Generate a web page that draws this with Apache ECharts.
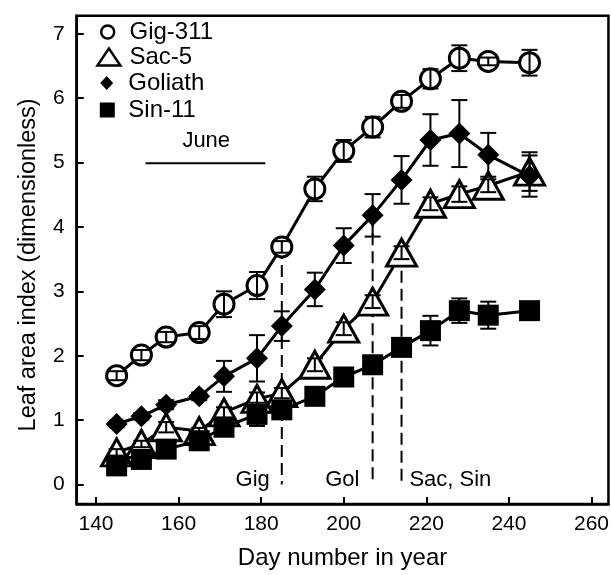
<!DOCTYPE html>
<html><head><meta charset="utf-8">
<script src="https://cdn.jsdelivr.net/npm/echarts@6/dist/echarts.min.js"></script>
<style>html,body{margin:0;padding:0;background:#fff}#c{width:612px;height:575px}</style>
</head><body><div id="c"></div>
<script>
// ---- data ----
const days = [145,151,157,165,171,179,185,193,200,207,214,221,228,235,245];
const gigLAI = [1.69,2.01,2.29,2.36,2.80,3.09,3.69,4.59,5.18,5.55,5.95,6.30,6.62,6.57,6.55];
const gigErr = [0.07,0.08,0.08,0.10,0.20,0.21,0.09,0.19,0.17,0.16,0.10,0.15,0.20,0.06,0.20];
const sacLAI = [0.50,0.63,0.89,0.83,1.12,1.33,1.42,1.86,2.42,2.84,3.60,4.36,4.51,4.64,4.86];
const sacErr = [0.05,0.05,0.08,0.05,0.08,0.10,0.08,0.10,0.10,0.10,0.10,0.10,0.12,0.10,0.30];
const golLAI = [0.94,1.06,1.24,1.37,1.68,1.96,2.46,3.03,3.71,4.18,4.73,5.35,5.45,5.12,4.79];
const golErr = [0.05,0.05,0.07,0.06,0.24,0.36,0.23,0.26,0.27,0.33,0.37,0.40,0.52,0.34,0.32];
const sinLAI = [0.29,0.39,0.55,0.68,0.89,1.09,1.16,1.37,1.67,1.86,2.13,2.39,2.70,2.63,2.70];
const sinErr = [0.05,0.05,0.05,0.05,0.08,0.18,0.10,0.08,0.08,0.08,0.10,0.23,0.19,0.21,0.13];
const seriesNames = ['Gig-311','Sac-5','Goliath','Sin-11'];
const xTicks = [140,160,180,200,220,240,260];
const yTicks = [0,1,2,3,4,5,6,7];
const guideDays = [185,207,214];
const guideTops = [3.69,4.18,3.60];
const guideBottom = 0;
const juneSpan = [152,181];
const juneLevel = 4.99;
const annoText = ['Gig','Gol','Sac, Sin','June'];
const annoX = [182.1,203.8,215.9,166.7];
const annoY = [0.07,0.07,0.07,5.33];
const annoAlign = ['right','right','left','center'];

// ---- chart ----
const FONT = '"Liberation Sans", Arial, sans-serif';
const chart = echarts.init(document.getElementById('c'), null, {renderer:'canvas'});

function pairs(xs, ys){ return xs.map((x,i)=>[x, ys[i]]); }
function errData(vals, errs){ return days.map((d,i)=>[d, vals[i]-errs[i], vals[i]+errs[i]]); }

function errRender(params, api){
  const x = api.value(0);
  const top = api.coord([x, api.value(2)]);
  const bot = api.coord([x, api.value(1)]);
  const w = 8;
  const st = {stroke:'#000', lineWidth:2};
  return {type:'group', children:[
    {type:'line', shape:{x1:top[0], y1:top[1], x2:bot[0], y2:bot[1]}, style:st},
    {type:'line', shape:{x1:top[0]-w, y1:top[1], x2:top[0]+w, y2:top[1]}, style:st},
    {type:'line', shape:{x1:bot[0]-w, y1:bot[1], x2:bot[0]+w, y2:bot[1]}, style:st}
  ]};
}

const seriesDefs = [
  {name:seriesNames[0], vals:gigLAI, errs:gigErr, symbol:'circle', size:20, fill:'#fff', bw:3, z:2},
  {name:seriesNames[1], vals:sacLAI, errs:sacErr, symbol:'triangle', size:[30,27], fill:'#fff', bw:3, z:3},
  {name:seriesNames[2], vals:golLAI, errs:golErr, symbol:'diamond', size:22, fill:'#000', bw:0, z:4},
  {name:seriesNames[3], vals:sinLAI, errs:sinErr, symbol:'rect', size:21, fill:'#000', bw:0, z:5}
];

const series = [];
// dashed guide lines
guideDays.forEach((d,i)=>{
  series.push({type:'line', data:[[d, guideTops[i]],[d, guideBottom]], symbol:'none', silent:true, z:1,
    lineStyle:{color:'#000', width:2, type:[12,6]}});
});
// June bar
series.push({type:'line', data:[[juneSpan[0], juneLevel],[juneSpan[1], juneLevel]], symbol:'none', silent:true, z:1,
  lineStyle:{color:'#000', width:2}});

seriesDefs.forEach(s=>{
  series.push({type:'line', name:s.name, data:pairs(days, s.vals), symbol:s.symbol, symbolSize:s.size,
    showAllSymbol:true, z:s.z,
    lineStyle:{color:'#000', width:3},
    itemStyle:{color:s.fill, borderColor:'#000', borderWidth:s.bw}});
});
seriesDefs.forEach(s=>{
  series.push({type:'custom', name:s.name+' err', data:errData(s.vals, s.errs), renderItem:errRender,
    encode:{x:0, y:[1,2]}, z:6, silent:true, clip:false});
});
// annotations
series.push({type:'custom', data:pairs(annoX, annoY), z:7, silent:true, clip:false,
  encode:{x:0, y:1},
  renderItem:function(params, api){
    const p = api.coord([api.value(0), api.value(1)]);
    const i = params.dataIndex;
    return {type:'text', x:p[0], y:p[1], style:{text:annoText[i], fill:'#000', font:'22px ' + FONT,
      align:annoAlign[i], verticalAlign:'middle'}};
  }});

const legendCfg = [
  {icon:'circle', w:13, h:13, cx:106.5, cy:32, fill:'#fff', bw:2.4},
  {icon:'triangle', w:23, h:17, cx:107.7, cy:57, fill:'#fff', bw:2.4},
  {icon:'diamond', w:13, h:14, cx:106.7, cy:83, fill:'#000', bw:0},
  {icon:'rect', w:15, h:15, cx:107.3, cy:110, fill:'#000', bw:0}
];
const legends = legendCfg.map((c,i)=>{
  const left = c.cx - c.w/2;
  const pad = 128.3 - (left + c.w + 5);
  return {show:true, orient:'horizontal', left:left, top:c.cy-13, padding:0, selectedMode:false,
    itemWidth:c.w, itemHeight:c.h, symbolKeepAspect:false,
    data:[{name:seriesNames[i], icon:c.icon}],
    itemStyle:{color:c.fill, borderColor:'#000', borderWidth:c.bw},
    textStyle:{fontSize:24, fontFamily:FONT, color:'#000', lineHeight:26, padding:[0,0,0,pad]}};
});

chart.setOption({
  animation:false,
  backgroundColor:'#fff',
  grid:{left:76.7, top:15.7, right:2.7, bottom:64.3, show:true, borderColor:'#000', borderWidth:2.5, containLabel:false},
  legend:legends,
  xAxis:{type:'value', min:135.33, max:264.11,
    axisLine:{show:true, onZero:false, lineStyle:{color:'#000', width:2.5}},
    axisTick:{show:true, inside:true, length:7, lineStyle:{color:'#000', width:2}, customValues:xTicks},
    axisLabel:{show:true, customValues:xTicks, margin:10, color:'#000', fontSize:21, fontFamily:FONT},
    splitLine:{show:false},
    name:'Day number in year', nameLocation:'middle', nameGap:42,
    nameTextStyle:{color:'#000', fontSize:24, fontFamily:FONT}},
  yAxis:{type:'value', min:-0.302, max:7.28,
    axisLine:{show:true, onZero:false, lineStyle:{color:'#000', width:2.5}},
    axisTick:{show:true, inside:true, length:7, lineStyle:{color:'#000', width:2}, customValues:yTicks},
    axisLabel:{show:true, customValues:yTicks, margin:12, color:'#000', fontSize:21, fontFamily:FONT},
    splitLine:{show:false},
    name:'Leaf area index (dimensionless)', nameLocation:'middle', nameGap:36,
    nameTextStyle:{color:'#000', fontSize:23.5, fontFamily:FONT, padding:[0,10,0,0]}},
  series:series
});
</script></body></html>
